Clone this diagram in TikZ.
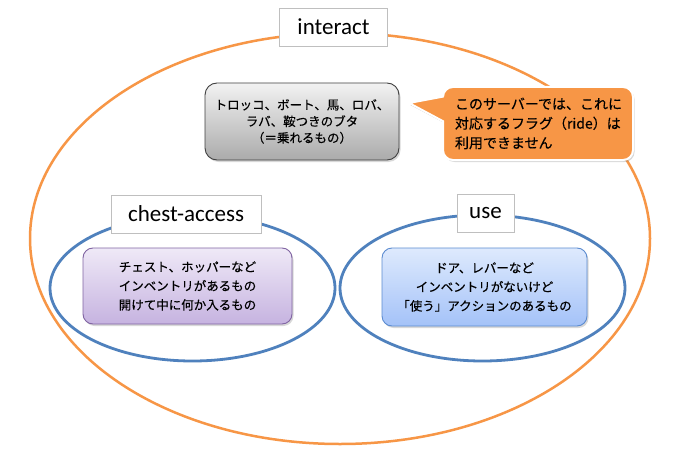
\documentclass[tikz,border=0pt]{standalone}
\usepackage{fontspec}
\setmainfont{Carlito}
\newfontfamily\jp[FakeBold=0.4]{Noto Sans CJK JP}
\usetikzlibrary{shapes.geometric,shadows}
\definecolor{orng}{HTML}{F79646}
\definecolor{blu}{HTML}{4F81BD}
\definecolor{lblgray}{HTML}{BFBFBF}
\definecolor{HTMLpurple}{HTML}{8064A2}
\definecolor{purpletop}{HTML}{EFE9F7}
\definecolor{purplebot}{HTML}{C6B3E0}
\definecolor{blueedge}{HTML}{5B8BD0}
\definecolor{bluetop}{HTML}{DEEAFD}
\definecolor{bluebot}{HTML}{A4C2F8}
\tikzset{
  setring/.style={ellipse, draw=blu, line width=2.8pt, inner sep=0pt},
  outerring/.style={ellipse, draw=orng, line width=2.5pt, inner sep=0pt},
  lbl/.style={draw=lblgray, fill=white, line width=0.9pt, minimum height=38pt, inner sep=0pt,
    font=\fontsize{23}{27}\selectfont},
  boxshadow/.style={drop shadow={shadow xshift=1.5pt, shadow yshift=-2pt, opacity=.3}},
  infobox/.style={rounded corners=10pt, line width=0.9pt, align=center, inner sep=0pt,
    font=\jp\fontsize{12.5}{19}\selectfont, boxshadow},
  graybox/.style={infobox, draw=black!75, top color=black!5, bottom color=black!33,
    font=\jp\fontsize{12.5}{16.5}\selectfont, rounded corners=12pt},
  purplebox/.style={infobox, draw=HTMLpurple, top color=purpletop, bottom color=purplebot},
  bluebox/.style={infobox, draw=blueedge, top color=bluetop, bottom color=bluebot},
  callbody/.style={fill=orng, draw=white, line width=2pt, rounded corners=10pt,
    inner xsep=12pt, inner ysep=0pt, text width=166pt, align=left,
    font=\jp\fontsize{14}{19.5}\selectfont, boxshadow}
}
\begin{document}
\begin{tikzpicture}[x=1pt,y=-1pt]
\useasboundingbox (0,0) rectangle (684,457);
\fill[white] (0,0) rectangle (684,457);

% outer set
\node[outerring, minimum width=620pt, minimum height=411pt] (interactset) at (340,238.5) {};
% inner sets
\node[setring, minimum width=285pt, minimum height=146pt] (chestset) at (192.5,288) {};
\node[setring, minimum width=285pt, minimum height=146pt] (useset) at (482.5,288) {};

% labels
\node[lbl, minimum width=108pt] (interactlbl) at (333.5,27) {interact};
\node[lbl, minimum width=150pt] (chestlbl) at (186,214) {chest-access};
\node[lbl, minimum width=57pt] (uselbl) at (485.5,213) {use};

% boxes
\node[graybox, minimum width=194pt, minimum height=77pt] (ridebox) at (302,121.5)
  {トロッコ、ボート、馬、ロバ、\\ラバ、鞍つきのブタ\\（＝乗れるもの）};
\node[purplebox, minimum width=209pt, minimum height=76pt] (chestbox) at (187.5,286)
  {チェスト、ホッパーなど\\インベントリがあるもの\\開けて中に何か入るもの};
\node[bluebox, minimum width=205pt, minimum height=78pt] (usebox) at (484.5,287)
  {ドア、レバーなど\\インベントリがないけど\\「使う」アクションのあるもの};

% callout
\coordinate (tip) at (409,103);
\fill[black, opacity=.3] (444.5,99) -- (410.5,105) -- (444.5,123) -- cycle;
\node[callbody, minimum height=73pt] (note) at (538,123.5)
  {このサーバーでは、これに\\対応するフラグ（ride）は\\利用できません};
\fill[orng] (443,97) -- (tip) -- (443,121) -- (448,121) -- (448,97) -- cycle;
\draw[white, line width=2pt, line join=miter] (443.6,96.5) -- (tip) -- (443.6,121.5);
\end{tikzpicture}
\end{document}
